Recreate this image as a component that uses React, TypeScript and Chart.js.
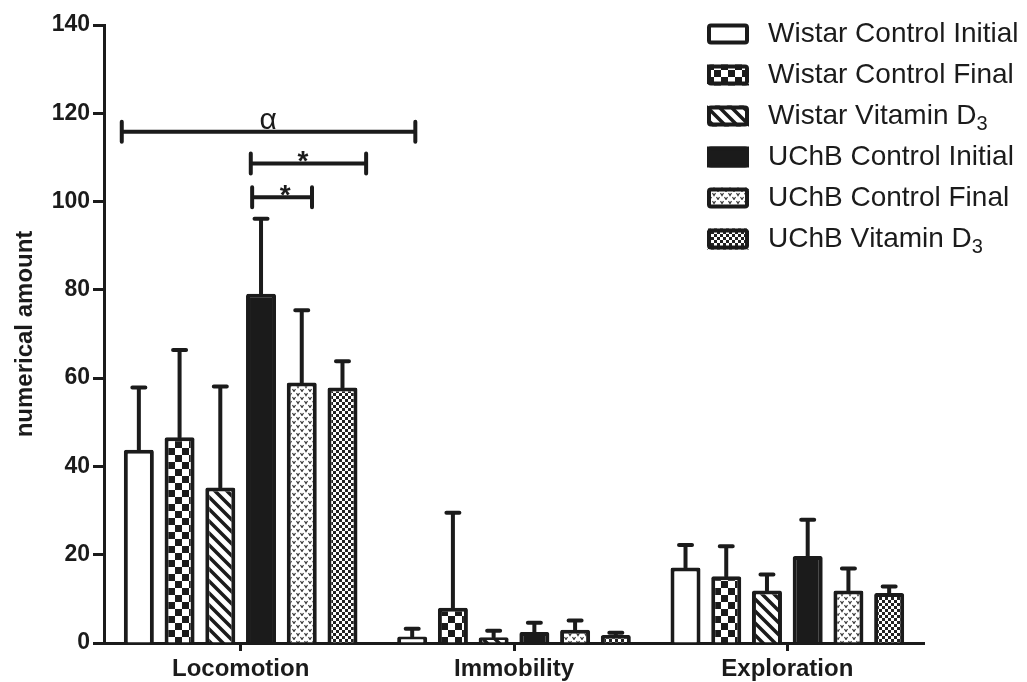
import { useEffect, useRef } from "react";
import { Chart, registerables } from "chart.js";

Chart.register(...registerables);

// ---------- data ----------
const categories = ["Locomotion", "Immobility", "Exploration"];
const seriesNames = [
  "Wistar Control Initial",
  "Wistar Control Final",
  "Wistar Vitamin D₃",
  "UChB Control Initial",
  "UChB Control Final",
  "UChB Vitamin D₃",
];
const wistarControlInitial = [43.8, 1.5, 17.1];
const wistarControlFinal = [46.6, 8.0, 15.1];
const wistarVitaminD3 = [35.2, 1.3, 11.9];
const uchbControlInitial = [79.1, 2.5, 19.7];
const uchbControlFinal = [59.0, 3.0, 11.9];
const uchbVitaminD3 = [57.9, 1.8, 11.3];

// upper error bars
const wistarControlInitialErr = [14.1, 1.7, 5.1];
const wistarControlFinalErr = [19.8, 21.5, 6.8];
const wistarVitaminD3Err = [22.9, 1.5, 3.6];
const uchbControlInitialErr = [17.0, 2.1, 8.2];
const uchbControlFinalErr = [16.4, 2.1, 5.0];
const uchbVitaminD3Err = [5.9, 0.5, 1.5];

const yMin = 0;
const yMax = 140;
const yStep = 20;
const yTitle = "numerical amount";

// significance brackets (x in category units relative to first category)
const sigLabels = ["α", "*", "*"];
const sigLevels = [115.8, 108.6, 101.0];
const sigFrom = [-0.435, 0.037, 0.042];
const sigTo = [0.639, 0.459, 0.261];
const sigTextAt = [0.101, 0.228, 0.163];

const seriesValues = [
  wistarControlInitial,
  wistarControlFinal,
  wistarVitaminD3,
  uchbControlInitial,
  uchbControlFinal,
  uchbVitaminD3,
];
const seriesErrors = [
  wistarControlInitialErr,
  wistarControlFinalErr,
  wistarVitaminD3Err,
  uchbControlInitialErr,
  uchbControlFinalErr,
  uchbVitaminD3Err,
];

const INK = "#1b1b1b";
const FONT = "'Liberation Sans', Arial, Helvetica, sans-serif";

// ---------- patterns ----------
function makeTile(w: number, h: number, draw: (c: CanvasRenderingContext2D) => void) {
  const cv = document.createElement("canvas");
  cv.width = w;
  cv.height = h;
  const c = cv.getContext("2d")!;
  c.fillStyle = "#ffffff";
  c.fillRect(0, 0, w, h);
  draw(c);
  return c.createPattern(cv, "repeat")!;
}

function makeFills(): (string | CanvasPattern)[] {
  const checker = makeTile(14, 14, (c) => {
    c.fillStyle = INK;
    c.fillRect(0, 0, 7, 7);
    c.fillRect(7, 7, 7, 7);
  });
  const stripes = makeTile(12, 12, (c) => {
    c.strokeStyle = INK;
    c.lineWidth = 3.5;
    c.beginPath();
    c.moveTo(-3, -3);
    c.lineTo(15, 15);
    c.moveTo(-3, 9);
    c.lineTo(3, 15);
    c.moveTo(9, -3);
    c.lineTo(15, 3);
    c.stroke();
  });
  const vees = makeTile(8, 8, (c) => {
    c.strokeStyle = "#3a3a3a";
    c.lineWidth = 1.2;
    c.beginPath();
    c.moveTo(0.5, 1);
    c.lineTo(2, 3.5);
    c.lineTo(3.5, 1);
    c.moveTo(4.5, 5);
    c.lineTo(6, 7.5);
    c.lineTo(7.5, 5);
    c.stroke();
  });
  const fine = makeTile(6, 6, (c) => {
    c.fillStyle = "#222";
    c.fillRect(0, 0, 3, 3);
    c.fillRect(3, 3, 3, 3);
  });
  return ["#ffffff", checker, stripes, INK, vees, fine];
}

// draw text with unicode subscript digits rendered as real subscripts
const SUBS = "₀₁₂₃₄₅₆₇₈₉";
function drawRichText(ctx: CanvasRenderingContext2D, text: string, x: number, y: number, size: number) {
  let cx = x;
  for (const ch of Array.from(text)) {
    const si = SUBS.indexOf(ch);
    if (si >= 0) {
      ctx.font = `${Math.round(size * 0.7)}px ${FONT}`;
      const s = String(si);
      ctx.fillText(s, cx, y + size * 0.3);
      cx += ctx.measureText(s).width;
    } else {
      ctx.font = `${size}px ${FONT}`;
      ctx.fillText(ch, cx, y);
      cx += ctx.measureText(ch).width;
    }
  }
}

const errorBarPlugin = {
  id: "errorBars",
  afterDatasetsDraw(chart: any) {
    const ctx = chart.ctx as CanvasRenderingContext2D;
    const y = chart.scales.y;
    ctx.save();
    ctx.strokeStyle = INK;
    ctx.lineWidth = 4;
    ctx.lineCap = "round";
    chart.data.datasets.forEach((ds: any, di: number) => {
      const meta = chart.getDatasetMeta(di);
      meta.data.forEach((bar: any, i: number) => {
        const v = ds.data[i];
        const e = seriesErrors[di][i];
        const yb = y.getPixelForValue(v);
        const yt = y.getPixelForValue(v + e);
        ctx.beginPath();
        ctx.moveTo(bar.x, yb);
        ctx.lineTo(bar.x, yt);
        ctx.moveTo(bar.x - 6.5, yt);
        ctx.lineTo(bar.x + 6.5, yt);
        ctx.stroke();
      });
    });
    ctx.restore();
  },
};

const annotationPlugin = {
  id: "sigBrackets",
  afterDraw(chart: any) {
    const ctx = chart.ctx as CanvasRenderingContext2D;
    const xs = chart.scales.x;
    const ys = chart.scales.y;
    const x0 = xs.getPixelForValue(0);
    const unit = xs.getPixelForValue(1) - x0;
    ctx.save();
    ctx.strokeStyle = INK;
    ctx.fillStyle = INK;
    ctx.lineWidth = 4;
    ctx.lineCap = "round";
    sigLabels.forEach((lab, i) => {
      const yy = ys.getPixelForValue(sigLevels[i]);
      const xa = x0 + sigFrom[i] * unit;
      const xb = x0 + sigTo[i] * unit;
      ctx.beginPath();
      ctx.moveTo(xa, yy);
      ctx.lineTo(xb, yy);
      ctx.moveTo(xa, yy - 10);
      ctx.lineTo(xa, yy + 10);
      ctx.moveTo(xb, yy - 10);
      ctx.lineTo(xb, yy + 10);
      ctx.stroke();
      const isAlpha = lab === "α";
      ctx.font = isAlpha ? `30px ${FONT}` : `bold 28px ${FONT}`;
      ctx.textAlign = "center";
      ctx.textBaseline = "alphabetic";
      const m = ctx.measureText(lab);
      const asc = m.actualBoundingBoxAscent;
      const desc = m.actualBoundingBoxDescent;
      const centerY = yy - (isAlpha ? 11 : 7);
      const baseY = centerY + (asc - desc) / 2;
      ctx.fillText(lab, x0 + sigTextAt[i] * unit, baseY);
    });
    ctx.restore();
  },
};

const legendPlugin = {
  id: "customLegend",
  afterDraw(chart: any) {
    const ctx = chart.ctx as CanvasRenderingContext2D;
    ctx.save();
    chart.data.datasets.forEach((ds: any, i: number) => {
      const yc = 34 + 41 * i;
      const bx = 707;
      const bw = 42;
      const bh = 21;
      ctx.fillStyle = ds.backgroundColor;
      ctx.fillRect(bx, yc - bh / 2, bw, bh);
      ctx.strokeStyle = INK;
      ctx.lineWidth = 4;
      ctx.beginPath();
      if ((ctx as any).roundRect) {
        (ctx as any).roundRect(bx + 2, yc - bh / 2 + 2, bw - 4, bh - 4, 2);
      } else {
        ctx.rect(bx + 2, yc - bh / 2 + 2, bw - 4, bh - 4);
      }
      ctx.stroke();
      ctx.fillStyle = INK;
      ctx.textAlign = "left";
      ctx.textBaseline = "middle";
      drawRichText(ctx, ds.label, 768, yc, 28);
    });
    ctx.restore();
  },
};

export default function App() {
  const canvasRef = useRef<HTMLCanvasElement | null>(null);

  useEffect(() => {
    document.body.style.margin = "0";
    const canvas = canvasRef.current;
    if (!canvas) return;
    const fills = makeFills();
    const chart = new Chart(canvas, {
      type: "bar",
      data: {
        labels: categories,
        datasets: seriesValues.map((vals, i) => ({
          label: seriesNames[i],
          data: vals,
          backgroundColor: fills[i] as any,
          borderColor: INK,
          borderWidth: 4,
          borderRadius: 2,
          categoryPercentage: 0.894,
          barPercentage: 0.737,
        })),
      },
      options: {
        responsive: true,
        maintainAspectRatio: false,
        animation: false,
        layout: { padding: { top: 25, right: 103, bottom: 0, left: 0 } },
        plugins: {
          legend: { display: false },
          tooltip: { enabled: false },
        },
        scales: {
          x: {
            grid: {
              display: true,
              drawOnChartArea: false,
              drawTicks: true,
              offset: false,
              tickLength: 8,
              tickWidth: 3,
              tickColor: INK,
            },
            border: { display: true, width: 3, color: INK },
            ticks: {
              color: INK,
              padding: 4,
              font: { family: FONT, size: 24, weight: "bold" },
            },
            afterFit: (scale: any) => {
              scale.height = 39;
            },
          },
          y: {
            min: yMin,
            max: yMax,
            ticks: {
              stepSize: yStep,
              color: INK,
              padding: 3,
              font: { family: FONT, size: 23, weight: "bold" },
            },
            grid: {
              display: true,
              drawOnChartArea: false,
              drawTicks: true,
              tickLength: 11,
              tickWidth: 3,
              tickColor: INK,
            },
            border: { display: true, width: 3, color: INK },
            title: {
              display: true,
              text: yTitle,
              color: INK,
              padding: { top: 11, bottom: 0 },
              font: { family: FONT, size: 24, weight: "bold" },
            },
            afterFit: (scale: any) => {
              scale.width = 104;
            },
          },
        },
      },
      plugins: [errorBarPlugin, annotationPlugin, legendPlugin],
    });
    return () => chart.destroy();
  }, []);

  return (
    <div style={{ position: "relative", width: 1027, height: 682, background: "#fff" }}>
      <canvas ref={canvasRef} />
    </div>
  );
}
